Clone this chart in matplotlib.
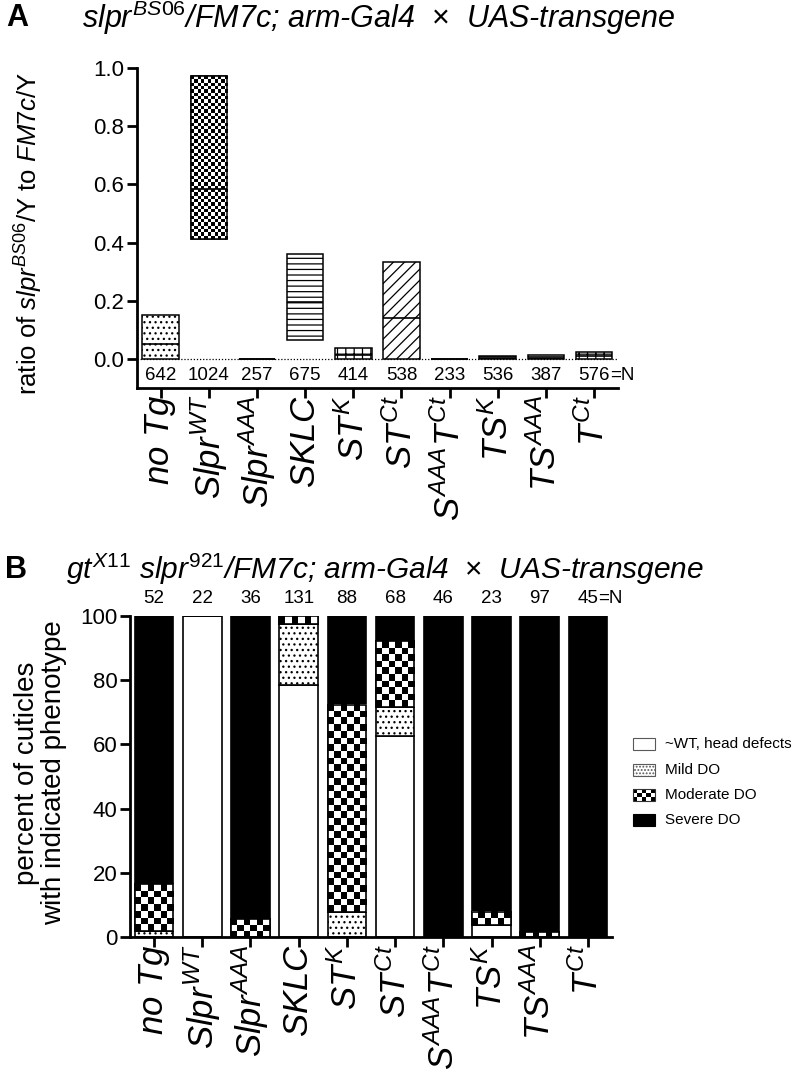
import matplotlib
matplotlib.use('Agg')
import matplotlib.pyplot as plt
from matplotlib.patches import Rectangle
import numpy as np

plt.rcParams['font.family'] = ['Liberation Sans', 'DejaVu Sans']
plt.rcParams['mathtext.fontset'] = 'custom'
plt.rcParams['mathtext.it'] = 'Liberation Sans:italic'
plt.rcParams['mathtext.rm'] = 'Liberation Sans'
plt.rcParams['mathtext.default'] = 'it'
plt.rcParams['hatch.linewidth'] = 0.9

# genotypes (x axis, both panels)
labels = [r'$no\ Tg$', r'$Slpr^{WT}$', r'$Slpr^{AAA}$', r'$SKLC$', r'$ST^{K}$',
          r'$ST^{Ct}$', r'$S^{AAA}T^{Ct}$', r'$TS^{K}$', r'$TS^{AAA}$', r'$T^{Ct}$']

# panel A: ratio slpr/Y to FM7c/Y, floating bars (min - max, line at median)
ratio_min = [0.0, 0.413, 0.0, 0.064, 0.0, 0.0, 0.0, 0.0, 0.0, 0.0]
ratio_med = [0.051, 0.584, 0.0, 0.196, 0.015, 0.139, 0.0, 0.005, 0.006, 0.010]
ratio_max = [0.152, 0.972, 0.0, 0.361, 0.037, 0.332, 0.0, 0.010, 0.014, 0.025]
n_a = [642, 1024, 257, 675, 414, 538, 233, 536, 387, 576]
hatch_a = ['...', 'checker', None, '---', '++', '///', None, '---', '---', '++']

# panel B: percent of cuticles per phenotype class
pct_wt = [0, 100, 0, 78.5, 0, 62.6, 0, 3.7, 0, 0]
pct_mild = [2.0, 0, 0, 19.0, 7.8, 9.1, 0, 0, 0, 0]
pct_mod = [14.5, 0, 5.6, 2.5, 64.5, 20.5, 0, 4.1, 1.5, 0]
pct_sev = [83.5, 0, 94.4, 0, 27.7, 7.8, 100, 92.2, 98.5, 100]
n_b = [52, 22, 36, 131, 88, 68, 46, 23, 97, 45]
classes = ['~WT, head defects', 'Mild DO', 'Moderate DO', 'Severe DO']


def checker_fill(ax, x0, y0, x1, y1, cell_px, clip=True, zorder=2.5):
    p0 = ax.transData.transform((x0, y0))
    p1 = ax.transData.transform((x1, y1))
    nx = max(1, int(round(abs(p1[0] - p0[0]) / cell_px)))
    ny = max(1, int(round(abs(p1[1] - p0[1]) / cell_px)))
    grid = np.add.outer(np.arange(ny), np.arange(nx)) % 2
    ax.imshow(grid, extent=(x0, x1, y0, y1), origin='lower', cmap='gray',
              vmin=0, vmax=1, interpolation='nearest', aspect='auto',
              zorder=zorder, clip_on=clip)


def style_axes(ax):
    for s in ['top', 'right']:
        ax.spines[s].set_visible(False)
    for s in ['left', 'bottom']:
        ax.spines[s].set_linewidth(2.0)
    ax.tick_params(axis='both', direction='out', length=7, width=2.0)
    ax.tick_params(axis='y', labelsize=16, pad=2)
    ax.tick_params(axis='x', labelsize=25, pad=-2)
    ax.set_xticks(range(len(labels)))
    ax.set_xticklabels(labels, rotation=90)
    ax.set_xlim(-0.5, 9.5)


fig = plt.figure(figsize=(7.97, 10.73), dpi=100)

# ---------------- panel A ----------------
axA = fig.add_axes([0.1715, 0.6384, 0.604, 0.2982])
style_axes(axA)
axA.set_ylim(-0.1, 1.0)
axA.set_yticks([0, 0.2, 0.4, 0.6, 0.8, 1.0])
axA.set_yticklabels(['0.0', '0.2', '0.4', '0.6', '0.8', '1.0'])
axA.axhline(0, color='k', ls=(0, (1, 1.5)), lw=0.9, zorder=1)

wa = 0.76
for i in range(len(labels)):
    h = ratio_max[i] - ratio_min[i]
    if hatch_a[i] == 'checker':
        axA.bar(i, h, bottom=ratio_min[i], width=wa, color='white', edgecolor='k', lw=1.1, zorder=2)
        checker_fill(axA, i - wa / 2, ratio_min[i], i + wa / 2, ratio_max[i], 3.3)
        axA.bar(i, h, bottom=ratio_min[i], width=wa, fill=False, edgecolor='k', lw=1.1, zorder=3)
    else:
        axA.bar(i, h, bottom=ratio_min[i], width=wa, color='white', edgecolor='k',
                hatch=hatch_a[i], lw=1.1, zorder=2)
    axA.hlines(ratio_med[i], i - wa / 2, i + wa / 2, color='k', lw=1.2, zorder=3)

for i, n in enumerate(n_a):
    t = axA.text(i, -0.058, str(n), ha='center', va='center', fontsize=13.5)
    if i == len(n_a) - 1:
        axA.annotate('=N', xy=(1, 0), xycoords=t, ha='left', va='bottom', fontsize=13.5)

axA.set_ylabel(r'ratio of $slpr^{BS06}$/Y to $FM7c$/Y', fontsize=18.5)
axA.yaxis.set_label_coords(-0.19, 0.485)

fig.text(0.008, 0.983, 'A', fontsize=22, fontweight='bold', va='center')
fig.text(0.103, 0.983, r'$slpr^{BS06}$/FM7c; arm-Gal4  $\times$  UAS-transgene',
         fontsize=22, fontstyle='italic', va='center')

# ---------------- panel B ----------------
axB = fig.add_axes([0.1631, 0.1267, 0.6048, 0.2992])
style_axes(axB)
axB.set_ylim(0, 100)
axB.set_yticks([0, 20, 40, 60, 80, 100])

wb = 0.8
x = np.arange(len(labels))
axB.bar(x, pct_wt, width=wb, color='white', edgecolor='k', lw=1.2, zorder=2)
b1 = np.array(pct_wt)
axB.bar(x, pct_mild, bottom=b1, width=wb, color='white', edgecolor='k', hatch='...', lw=1.2, zorder=2)
b2 = b1 + np.array(pct_mild)
axB.bar(x, pct_mod, bottom=b2, width=wb, color='white', edgecolor='k', lw=1.2, zorder=2)
for i in range(len(labels)):
    if pct_mod[i] > 0:
        checker_fill(axB, i - wb / 2, b2[i], i + wb / 2, b2[i] + pct_mod[i], 6.7)
axB.bar(x, pct_mod, bottom=b2, width=wb, fill=False, edgecolor='k', lw=1.2, zorder=3)
b3 = b2 + np.array(pct_mod)
axB.bar(x, pct_sev, bottom=b3, width=wb, color='black', edgecolor='k', lw=1.2, zorder=2)

for i, n in enumerate(n_b):
    t = axB.text(i, 105.3, str(n), ha='center', va='center', fontsize=13.5, clip_on=False)
    if i == len(n_b) - 1:
        axB.annotate('=N', xy=(1, 0), xycoords=t, ha='left', va='bottom', fontsize=13.5)

# legend drawn beside the bars
ly = [60.1, 52.0, 44.2, 36.4]
lx0, lx1, lh = 9.94, 10.39, 3.7
for k, name in enumerate(classes):
    y0 = ly[k] - lh / 2
    if k == 0:
        axB.add_patch(Rectangle((lx0, y0), lx1 - lx0, lh, facecolor='white', edgecolor='0.35', lw=0.8, clip_on=False))
    elif k == 1:
        axB.add_patch(Rectangle((lx0, y0), lx1 - lx0, lh, facecolor='white', edgecolor='0.35', hatch='.....', lw=0.8, clip_on=False))
    elif k == 2:
        checker_fill(axB, lx0, y0, lx1, y0 + lh, 4.0, clip=False)
        axB.add_patch(Rectangle((lx0, y0), lx1 - lx0, lh, fill=False, edgecolor='0.2', lw=0.8, clip_on=False, zorder=3))
    else:
        axB.add_patch(Rectangle((lx0, y0), lx1 - lx0, lh, facecolor='black', edgecolor='black', lw=0.8, clip_on=False))
    axB.text(10.6, ly[k], name, va='center', ha='left', fontsize=11, clip_on=False)

axB.set_xlim(-0.5, 9.5)
axB.set_ylim(0, 100)
axA.set_xlim(-0.5, 9.5)
axA.set_ylim(-0.1, 1.0)

fig.text(0.051, 1 - 773 / 1073, 'percent of cuticles\nwith indicated phenotype',
         rotation=90, ha='center', va='center', fontsize=20, linespacing=1.05)

fig.text(0.006, 0.469, 'B', fontsize=22, fontweight='bold', va='center')
fig.text(0.083, 0.469, r'$gt^{X11}\ slpr^{921}$/FM7c; arm-Gal4  $\times$  UAS-transgene',
         fontsize=21.5, fontstyle='italic', va='center')

fig.savefig('out.png', dpi=100, facecolor='white')
